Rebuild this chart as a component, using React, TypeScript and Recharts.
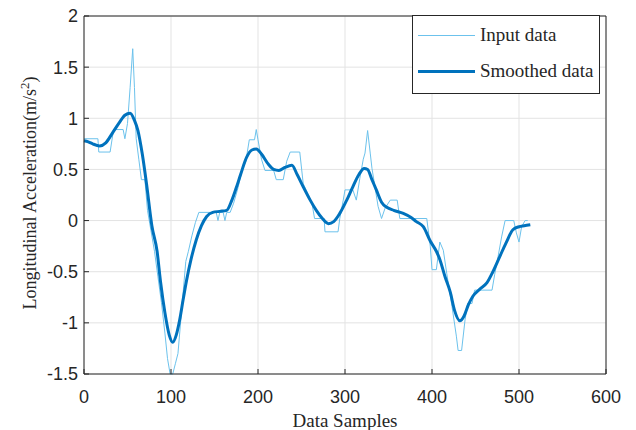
import {
  ComposedChart,
  Line,
  XAxis,
  YAxis,
  CartesianGrid,
  ReferenceLine,
} from 'recharts';

// sampled input (stepped sensor readings)
const inputX = [
  0, 16, 17, 30, 34, 45, 47, 50, 53, 56, 58, 60, 63, 66, 70, 73, 77, 81, 85, 89,
  93, 96, 99, 102, 105, 108, 111, 114, 117, 120, 124, 128, 132, 152, 154, 156, 160, 162, 164, 168,
  172, 177, 182, 186, 190, 196, 198, 200, 204, 208, 218, 221, 229, 233, 237, 248, 252, 258, 262, 265,
  276, 277, 292, 294, 298, 300, 309, 313, 317, 321, 323, 326, 329, 331, 335, 338, 342, 346, 352, 360,
  363, 394, 398, 400, 405, 409, 413, 417, 423, 428, 430, 434, 438, 441, 446, 449, 469, 472, 476, 480,
  484, 494, 497, 500, 503, 507, 510,
];
const inputY = [
  0.8, 0.8, 0.67, 0.67, 0.89, 0.89, 0.8, 0.95, 1.3, 1.68, 1.3, 0.8, 0.6, 0.4, 0.4, 0.1, -0.1, -0.3, -0.55, -0.8,
  -1.1, -1.35, -1.5, -1.5, -1.4, -1.3, -1.0, -0.7, -0.4, -0.3, -0.15, -0.02, 0.08, 0.08, 0.0, 0.08, 0.08, 0.0, 0.08, 0.08,
  0.17, 0.32, 0.5, 0.58, 0.79, 0.79, 0.89, 0.79, 0.6, 0.49, 0.49, 0.4, 0.4, 0.58, 0.67, 0.67, 0.36, 0.25, 0.17, 0.02,
  0.02, -0.11, -0.11, 0.02, 0.2, 0.3, 0.3, 0.2, 0.41, 0.6, 0.66, 0.88, 0.66, 0.51, 0.3, 0.14, 0.02, 0.12, 0.2, 0.2,
  0.02, 0.02, -0.25, -0.48, -0.48, -0.21, -0.29, -0.52, -0.84, -1.13, -1.27, -1.27, -0.97, -0.81, -0.81, -0.68, -0.68, -0.53, -0.35, -0.16,
  0.0, 0.0, -0.12, -0.21, -0.06, 0.0, 0.0,
];

// smoothed result
const smoothX = [
  0, 5, 10, 18, 25, 33, 40, 47, 53, 58, 62, 67, 72, 78, 84, 88, 93, 98, 102, 106,
  110, 114, 118, 123, 129, 135, 141, 148, 156, 164, 170, 175, 180, 187, 193, 198, 204, 212, 218, 224,
  231, 239, 245, 252, 260, 267, 274, 281, 287, 294, 302, 309, 316, 322, 326, 331, 336, 342, 348, 356,
  367, 376, 382, 390, 398, 405, 409, 415, 421, 426, 432, 437, 442, 447, 455, 463, 470, 478, 485, 493,
  500, 506, 513,
];
const smoothY = [
  0.78, 0.77, 0.75, 0.73, 0.76, 0.86, 0.95, 1.03, 1.05, 0.98, 0.88, 0.65, 0.35, -0.05, -0.3, -0.6, -0.9, -1.12, -1.19, -1.12,
  -0.97, -0.77, -0.58, -0.38, -0.19, -0.05, 0.04, 0.08, 0.09, 0.1, 0.2, 0.32, 0.45, 0.62, 0.69, 0.7, 0.65, 0.55, 0.5, 0.49,
  0.52, 0.54, 0.45, 0.33, 0.2, 0.1, 0.02, -0.03, -0.01, 0.07, 0.2, 0.33, 0.45, 0.51, 0.5, 0.4, 0.3, 0.18, 0.13, 0.1,
  0.07, 0.03, -0.01, -0.06, -0.2, -0.3, -0.38, -0.55, -0.7, -0.88, -0.98, -0.93, -0.82, -0.74, -0.67, -0.61, -0.5, -0.35, -0.22, -0.09,
  -0.06, -0.05, -0.04,
];

const xTicks = [0, 100, 200, 300, 400, 500, 600];
const yTicks = [-1.5, -1, -0.5, 0, 0.5, 1, 1.5, 2];

const inputData = inputX.map((x, i) => ({ x, y: inputY[i] }));
const smoothData = smoothX.map((x, i) => ({ x, y: smoothY[i] }));

const INPUT_COLOR = '#6CC2EC';
const SMOOTH_COLOR = '#0072BD';
const AXIS_COLOR = '#262626';
const serif = '"Liberation Serif", "Times New Roman", serif';
const sans = '"Liberation Sans", Arial, sans-serif';

const YLabel = (props: any) => {
  const vb = props.viewBox || {};
  const cx = 30;
  const cy = vb.y + vb.height / 2 - 2;
  return (
    <text
      x={cx}
      y={cy}
      transform={`rotate(-90, ${cx}, ${cy})`}
      textAnchor="middle"
      dominantBaseline="central"
      fontFamily={serif}
      fontSize={18}
      fill={AXIS_COLOR}
    >
      Longitudinal Acceleration(m/s
      <tspan dy={-6} fontSize={13}>2</tspan>
      <tspan dy={6}>)</tspan>
    </text>
  );
};

export default function App() {
  return (
    <div style={{ position: 'absolute', left: 0, top: 0, width: 636, height: 430, background: '#fff' }}>
      <ComposedChart width={636} height={430} margin={{ top: 16, right: 30, bottom: 0, left: 0 }}>
        <CartesianGrid stroke="#e3e3e3" vertical horizontal />
        <XAxis
          type="number"
          dataKey="x"
          domain={[0, 600]}
          ticks={xTicks}
          height={56}
          stroke={AXIS_COLOR}
          tickSize={-5}
          tickMargin={21}
          tick={{ fill: AXIS_COLOR, fontSize: 18, fontFamily: sans }}
          label={{
            value: 'Data Samples',
            position: 'insideBottom',
            offset: 3,
            fill: AXIS_COLOR,
            fontSize: 19,
            fontFamily: serif,
          }}
        />
        <YAxis
          type="number"
          dataKey="y"
          domain={[-1.5, 2]}
          ticks={yTicks}
          width={84}
          stroke={AXIS_COLOR}
          tickSize={-5}
          tickMargin={11}
          tick={{ fill: AXIS_COLOR, fontSize: 18, fontFamily: sans }}
          label={<YLabel />}
        />
        <ReferenceLine y={2} stroke={AXIS_COLOR} />
        <ReferenceLine x={600} stroke={AXIS_COLOR} />
        <Line
          data={inputData}
          dataKey="y"
          type="linear"
          stroke={INPUT_COLOR}
          strokeWidth={1}
          dot={false}
          isAnimationActive={false}
        />
        <Line
          data={smoothData}
          dataKey="y"
          type="monotone"
          stroke={SMOOTH_COLOR}
          strokeWidth={3}
          dot={false}
          isAnimationActive={false}
        />
      </ComposedChart>
      <div
        style={{
          position: 'absolute',
          left: 412,
          top: 15,
          width: 186,
          height: 77,
          border: `1px solid ${AXIS_COLOR}`,
          background: '#fff',
          fontFamily: serif,
          fontSize: 19,
          color: AXIS_COLOR,
        }}
      >
        <div style={{ position: 'absolute', left: 5, top: 8, display: 'flex', alignItems: 'center' }}>
          <span style={{ display: 'inline-block', width: 57, height: 1, background: INPUT_COLOR, marginRight: 5 }} />
          <span>Input data</span>
        </div>
        <div style={{ position: 'absolute', left: 5, top: 44, display: 'flex', alignItems: 'center' }}>
          <span style={{ display: 'inline-block', width: 57, height: 3, background: SMOOTH_COLOR, marginRight: 5 }} />
          <span>Smoothed data</span>
        </div>
      </div>
    </div>
  );
}
